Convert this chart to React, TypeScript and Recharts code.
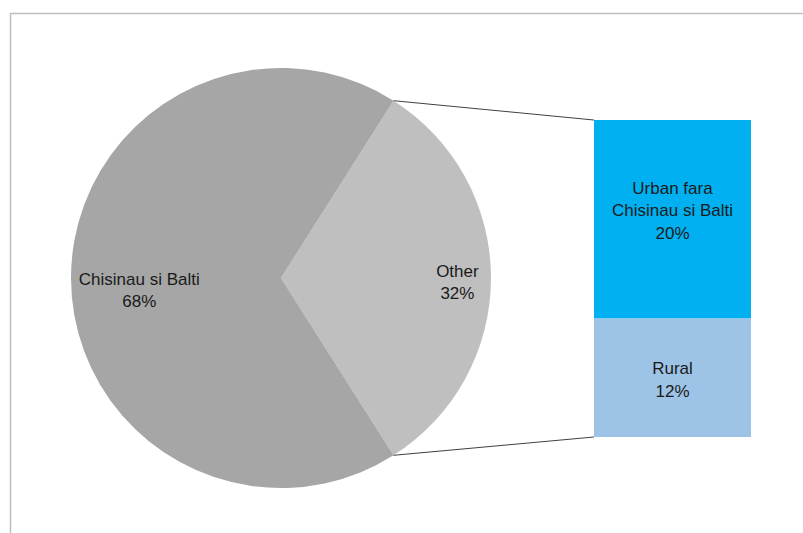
import React from 'react';
import { PieChart, Pie, Cell, BarChart, Bar, XAxis, YAxis, LabelList } from 'recharts';

// main pie: the city share and the grouped remainder
const pieNames = ['Other', 'Chisinau si Balti'];
const pieValues = [32, 68];
const pieColors = ['#bfbfbf', '#a6a6a6'];

// breakdown of "Other" (bottom segment first)
const barNames = ['Rural', 'Urban fara\nChisinau si Balti'];
const barValues = [12, 20];
const barColors = ['#9dc3e6', '#00b0f0'];

const W = 803;
const H = 533;
const CX = 281;
const CY = 278;
const R = 210;

const BAR_LEFT = 594;
const BAR_TOP = 120;
const BAR_W = 157;
const BAR_H = 317;

const FONT = '"Liberation Sans", Arial, sans-serif';
const FS = 17;

const pieData = pieNames.map((name, i) => ({ name, value: pieValues[i] }));
const barRow = { name: 'Other', rural: barValues[0], urban: barValues[1] };
const barKeys = ['rural', 'urban'];

const total = pieValues.reduce((a, b) => a + b, 0);
// "Other" is centred on the 3 o'clock direction
const halfSweep = (pieValues[0] / total) * 180;

// label placement per slice: radial fraction and vertical nudge
const labelPos: Record<string, [number, number]> = {
  Other: [0.84, 1],
  'Chisinau si Balti': [0.675, 9],
};

function PieLabel(props: any) {
  const { cx, cy, outerRadius, midAngle, name, value } = props;
  const rad = (-midAngle * Math.PI) / 180;
  const [k, nudge] = labelPos[name] ?? [0.7, 0];
  const x = cx + outerRadius * k * Math.cos(rad);
  const y = cy + outerRadius * k * Math.sin(rad) + nudge;
  return (
    <text x={x} y={y} textAnchor="middle" fill="#1a1a1a" fontSize={FS} fontFamily={FONT}>
      <tspan x={x} dy={-2}>{name}</tspan>
      <tspan x={x} dy={22}>{`${value}%`}</tspan>
    </text>
  );
}

function segmentLabel(index: number) {
  return (props: any) => {
    const { x, y, width, height } = props;
    const lines = [...barNames[index].split('\n'), `${barValues[index]}%`];
    const mx = x + width / 2;
    const lh = 22.5;
    const top = y + height / 2 - ((lines.length - 1) * lh) / 2 - (index === 1 ? 9 : -2);
    return (
      <text textAnchor="middle" fill="#1a1a1a" fontSize={FS} fontFamily={FONT}>
        {lines.map((l, i) => (
          <tspan key={i} x={mx} y={top + i * lh + 6}>{l}</tspan>
        ))}
      </text>
    );
  };
}

export default function App() {
  const a = (halfSweep * Math.PI) / 180;
  const px = CX + R * Math.cos(a);
  const pyTop = CY - R * Math.sin(a);
  const pyBot = CY + R * Math.sin(a);

  return (
    <div style={{ position: 'absolute', left: 0, top: 0, width: W, height: H, background: '#fff' }}>
      <div style={{ position: 'absolute', left: 0, top: 0 }}>
        <PieChart width={W} height={H} margin={{ top: 0, right: 0, bottom: 0, left: 0 }}>
          <Pie
            data={pieData}
            dataKey="value"
            nameKey="name"
            cx={CX}
            cy={CY}
            outerRadius={R}
            startAngle={-halfSweep}
            endAngle={360 - halfSweep}
            stroke="none"
            labelLine={false}
            label={PieLabel}
            isAnimationActive={false}
          >
            {pieData.map((d, i) => (
              <Cell key={d.name} fill={pieColors[i]} />
            ))}
          </Pie>
        </PieChart>
      </div>
      <div style={{ position: 'absolute', left: BAR_LEFT, top: BAR_TOP }}>
        <BarChart
          width={BAR_W}
          height={BAR_H}
          data={[barRow]}
          margin={{ top: 0, right: 0, bottom: 0, left: 0 }}
          barCategoryGap={0}
        >
          <XAxis dataKey="name" hide />
          <YAxis hide domain={[0, total - pieValues[1]]} />
          {barKeys.map((k, i) => (
            <Bar key={k} dataKey={k} stackId="s" fill={barColors[i]} isAnimationActive={false}>
              <LabelList dataKey={k} content={segmentLabel(i)} />
            </Bar>
          ))}
        </BarChart>
      </div>
      <svg
        width={W}
        height={H}
        style={{ position: 'absolute', left: 0, top: 0, pointerEvents: 'none' }}
      >
        <line x1={px} y1={pyTop} x2={BAR_LEFT} y2={BAR_TOP} stroke="#404040" strokeWidth={1} />
        <line x1={px} y1={pyBot} x2={BAR_LEFT} y2={BAR_TOP + BAR_H} stroke="#404040" strokeWidth={1} />
        <path d={`M10.5 ${H} V13.5 H${W}`} fill="none" stroke="#bfbfbf" strokeWidth={1.5} />
      </svg>
    </div>
  );
}
